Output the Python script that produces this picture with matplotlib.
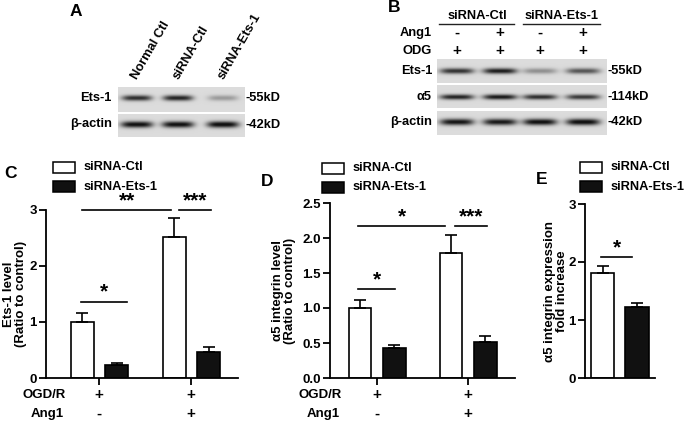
import numpy as np
import matplotlib
matplotlib.use("Agg")
import matplotlib.pyplot as plt
from matplotlib.patches import Rectangle
from matplotlib import transforms

plt.rcParams['font.family'] = ['Liberation Sans', 'DejaVu Sans']
plt.rcParams['font.weight'] = 'bold'
plt.rcParams['axes.labelweight'] = 'bold'

# ---- blot data (relative band darkness per lane) ----
blot_a_lanes = ["Normal Ctl", "siRNA-Ctl", "siRNA-Ets-1"]
blot_a_ets1 = [0.80, 0.85, 0.30]
blot_a_actin = [0.95, 0.95, 0.97]

blot_b_groups = ["siRNA-Ctl", "siRNA-Ets-1"]
blot_b_ang1 = ["-", "+", "-", "+"]
blot_b_odg = ["+", "+", "+", "+"]
blot_b_ets1 = [0.78, 0.88, 0.35, 0.62]
blot_b_a5 = [0.85, 0.90, 0.80, 0.75]
blot_b_actin = [0.92, 0.90, 0.95, 0.97]

# ---- bar chart data ----
ogd_r = ["+", "+"]
ang1 = ["-", "+"]
series = ["siRNA-Ctl", "siRNA-Ets-1"]

c_ctl = [1.00, 2.52]
c_ctl_err = [0.16, 0.34]
c_ets = [0.23, 0.47]
c_ets_err = [0.04, 0.08]

d_ctl = [1.00, 1.79]
d_ctl_err = [0.12, 0.25]
d_ets = [0.43, 0.52]
d_ets_err = [0.04, 0.08]

e_vals = [1.81, 1.23]
e_err = [0.12, 0.06]

W, H = 685, 423
fig = plt.figure(figsize=(W / 100, H / 100), dpi=100)
ov = fig.add_axes([0, 0, 1, 1])
ov.set_xlim(0, W)
ov.set_ylim(H, 0)
ov.axis('off')

FS = 9.3
YFS = 9.5


def blot_strip(x0, x1, y0, y1, lanes_x, levels, band_y, band_h, band_w, bg=0.86):
    res = 4
    w = int((x1 - x0) * res)
    h = int((y1 - y0) * res)
    xs = x0 + (np.arange(w) + 0.5) / res
    ys = y0 + (np.arange(h) + 0.5) / res
    X, Y = np.meshgrid(xs, ys)
    dark = np.zeros_like(X)
    for lx, lv in zip(lanes_x, levels):
        dark += lv * np.exp(-np.abs((X - lx) / band_w) ** 4) * np.exp(-((Y - band_y) / band_h) ** 2)
    img = bg * (1 - np.clip(dark, 0, 0.92))
    ov.imshow(img, cmap='gray', vmin=0, vmax=1, extent=(x0, x1, y1, y0),
              aspect='auto', interpolation='bilinear')


# ---------- panel A ----------
a_lane_x = [137, 178, 223]
blot_strip(118, 245, 87, 112, a_lane_x, blot_a_ets1, 98, 2.8, 15)
blot_strip(118, 245, 114, 137, a_lane_x, blot_a_actin, 124.5, 3.2, 16)
for lx, lab in zip(a_lane_x, blot_a_lanes):
    ov.text(lx + 3, 82, lab, rotation=60, rotation_mode='anchor', ha='left', va='bottom', fontsize=FS)
ov.text(112, 98, "Ets-1", ha='right', va='center', fontsize=FS)
ov.text(112, 124.5, "β-actin", ha='right', va='center', fontsize=FS)
ov.text(246, 98, "-55kD", ha='left', va='center', fontsize=FS)
ov.text(246, 124.5, "-42kD", ha='left', va='center', fontsize=FS)
ov.text(76, 11, "A", ha='center', va='center', fontsize=12.5)

# ---------- panel B ----------
b_lane_x = [457, 500, 540, 583]
blot_strip(437, 607, 59, 83, b_lane_x, blot_b_ets1, 71, 2.8, 17)
blot_strip(437, 607, 85, 108, b_lane_x, blot_b_a5, 97, 2.6, 17)
blot_strip(437, 607, 111, 135, b_lane_x, blot_b_actin, 122, 3.2, 17)
for (cx, x0, x1), lab in zip([(477, 439, 514), (562, 523, 600)], blot_b_groups):
    ov.text(cx, 16, lab, ha='center', va='center', fontsize=FS)
    ov.plot([x0, x1], [24, 24], color='#222222', lw=1.0)
ov.text(432, 33, "Ang1", ha='right', va='center', fontsize=FS)
ov.text(432, 51, "ODG", ha='right', va='center', fontsize=FS)
for lx, s1, s2 in zip(b_lane_x, blot_b_ang1, blot_b_odg):
    ov.text(lx, 33, s1, ha='center', va='center', fontsize=11)
    ov.text(lx, 51, s2, ha='center', va='center', fontsize=11)
ov.text(433, 71, "Ets-1", ha='right', va='center', fontsize=FS)
ov.text(432, 97, "α5", ha='right', va='center', fontsize=FS)
ov.text(432, 122, "β-actin", ha='right', va='center', fontsize=FS)
ov.text(608, 71, "-55kD", ha='left', va='center', fontsize=FS)
ov.text(608, 97, "-114kD", ha='left', va='center', fontsize=FS)
ov.text(608, 122, "-42kD", ha='left', va='center', fontsize=FS)
ov.text(394, 8, "B", ha='center', va='center', fontsize=12.5)


# ---------- bar panels ----------
def make_ax(x0, x1, ytop, ybot=378):
    ax = fig.add_axes([x0 / W, (H - ybot) / H, (x1 - x0) / W, (ybot - ytop) / H])
    ax.patch.set_alpha(0)
    for s in ['top', 'right']:
        ax.spines[s].set_visible(False)
    for s in ['left', 'bottom']:
        ax.spines[s].set_linewidth(1.3)
    ax.tick_params(axis='y', length=5, width=1.3, labelsize=9.5, pad=1.5)
    ax.tick_params(axis='x', length=5, width=1.3, labelbottom=False)
    return ax


def bars(ax, xs, vals, errs, color, width=0.25, cap=4):
    ax.bar(xs, vals, width=width, color=color, edgecolor='black', linewidth=1.2, zorder=2)
    ax.errorbar(xs, vals, yerr=[np.zeros(len(errs)), errs], fmt='none', ecolor='black',
                elinewidth=1.2, capsize=cap, capthick=1.2, zorder=3)


def sig(ax, x0, x1, y, label, dy=0.0):
    ax.plot([x0, x1], [y, y], color='black', lw=1.2, clip_on=False)
    ax.text((x0 + x1) / 2, y + dy, label, ha='center', va='bottom', fontsize=15, clip_on=False)


def legend(x, y):
    ov.add_patch(Rectangle((x, y), 22, 11, facecolor='white', edgecolor='black', lw=1.1))
    ov.add_patch(Rectangle((x, y + 19.5), 22, 11, facecolor='#111111', edgecolor='black', lw=1.1))
    ov.text(x + 31, y + 5, series[0], ha='left', va='center', fontsize=FS)
    ov.text(x + 31, y + 24.5, series[1], ha='left', va='center', fontsize=FS)


def cond_labels(ax, xlab, groups):
    tr = transforms.blended_transform_factory(ax.transData, ov.transData)
    ov.text(xlab, 395, "OGD/R", ha='center', va='center', fontsize=9.5)
    ov.text(xlab + 3, 414, "Ang1", ha='center', va='center', fontsize=9.5)
    for g, s1, s2 in zip(groups, ogd_r, ang1):
        ax.text(g, 395, s1, transform=tr, ha='center', va='center', fontsize=11)
        ax.text(g, 414, s2, transform=tr, ha='center', va='center', fontsize=11)


groups = np.arange(2)

# C
axc = make_ax(46, 238, 210)
bars(axc, groups - 0.18, c_ctl, c_ctl_err, 'white')
bars(axc, groups + 0.19, c_ets, c_ets_err, '#111111')
axc.set_xlim(-0.576, 1.51)
axc.set_ylim(0, 3)
axc.set_yticks([0, 1, 2, 3])
axc.set_xticks(groups)
axc.set_ylabel("Ets-1 level\n(Ratio to control)", fontsize=YFS, labelpad=2, linespacing=1.0)
sig(axc, -0.196, 0.304, 1.36, "*")
sig(axc, -0.185, 0.783, 3.0, "**")
sig(axc, 0.87, 1.217, 3.0, "***")
cond_labels(axc, 44, groups)
legend(53, 162)
ov.text(11, 174, "C", ha='center', va='center', fontsize=12.5)

# D
axd = make_ax(330, 515, 203)
bars(axd, groups - 0.187, d_ctl, d_ctl_err, 'white')
bars(axd, groups + 0.19, d_ets, d_ets_err, '#111111')
axd.set_xlim(-0.516, 1.516)
axd.set_ylim(0, 2.5)
axd.set_yticks([0, 0.5, 1.0, 1.5, 2.0, 2.5])
axd.set_yticklabels(["0.0", "0.5", "1.0", "1.5", "2.0", "2.5"])
axd.set_xticks(groups)
axd.set_ylabel("α5 integrin level\n(Ratio to control)", fontsize=YFS, labelpad=5, linespacing=1.0)
sig(axd, -0.209, 0.198, 1.27, "*")
sig(axd, -0.209, 0.747, 2.17, "*")
sig(axd, 0.857, 1.209, 2.17, "***")
cond_labels(axd, 320, groups)
legend(322, 163)
ov.text(267, 181, "D", ha='center', va='center', fontsize=12.5)

# E
axe = make_ax(585, 655, 204)
bars(axe, groups, e_vals, e_err, ['white', '#111111'], width=0.67, cap=4)
axe.set_xlim(-0.507, 1.52)
axe.set_ylim(0, 3)
axe.set_yticks([0, 1, 2, 3])
axe.set_xticks([])
axe.set_ylabel("α5 integrin expression\nfold increase", fontsize=YFS, labelpad=0, linespacing=1.0)
sig(axe, -0.04, 0.855, 2.08, "*")
legend(580, 162)
ov.text(542, 180, "E", ha='center', va='center', fontsize=12.5)

fig.savefig("out.png", dpi=100)
